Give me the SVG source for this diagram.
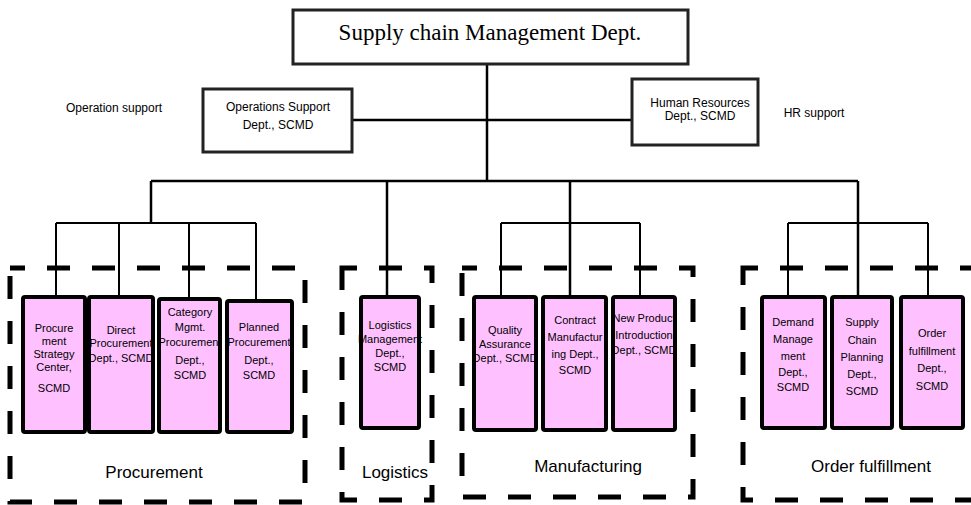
<svg xmlns="http://www.w3.org/2000/svg" width="971" height="505" viewBox="0 0 971 505">
<style>
  .ln { stroke: #000; stroke-width: 2.5; fill: none; }
  .sub { stroke: #000; stroke-width: 2; fill: none; }
  .grp { fill: none; stroke: #000; stroke-width: 5; stroke-dasharray: 23 22; stroke-dashoffset: 8; }
  .unit { fill: #FFC0FF; stroke: #000; stroke-width: 4; }
  .plain { fill: #fff; stroke: #222; stroke-width: 3; }
  .t { font-family: "Liberation Sans", Arial, sans-serif; font-size: 12px; fill: #000; text-anchor: middle; }
  .u { font-family: "Liberation Sans", Arial, sans-serif; font-size: 11px; fill: #000; text-anchor: middle; }
  .g { font-family: "Liberation Sans", Arial, sans-serif; font-size: 17px; fill: #000; text-anchor: middle; }
  .title { font-family: "Liberation Serif", "Times New Roman", serif; font-size: 23px; fill: #000; text-anchor: middle; }
</style>
<rect width="971" height="505" fill="#fff"/>

<g id="connectors">
  <path class="ln" d="M487 64 V181"/>
  <path class="ln" d="M352 120 H632"/>
  <path class="ln" d="M151 181 H858"/>
  <path class="ln" d="M151 181 V223"/>
  <path class="sub" d="M56 223 H256 M56 223 V297 M119 223 V297 M189 223 V299 M256 223 V301"/>
  <path class="ln" d="M387 181 V297"/>
  <path class="ln" d="M570 181 V297"/>
  <path class="sub" d="M501 223 H640 M501 223 V297 M640 223 V297"/>
  <path class="ln" d="M858 181 V297"/>
  <path class="sub" d="M788 223 H928 M788 223 V297 M928 223 V297"/>
</g>

<g id="top">
  <rect class="plain" x="293" y="10" width="395" height="54"/>
  <text class="title" x="490" y="40">Supply chain Management Dept.</text>
</g>

<g id="ops">
  <rect class="plain" x="203" y="89" width="149" height="63"/>
  <text class="t" x="278" y="111">Operations Support</text>
  <text class="t" x="278" y="129">Dept., SCMD</text>
</g>
<text class="t" x="114" y="112">Operation support</text>

<g id="hr">
  <rect class="plain" x="632" y="79" width="126" height="66"/>
  <text class="t" x="700" y="107">Human Resources</text>
  <text class="t" x="700" y="120">Dept., SCMD</text>
</g>
<text class="t" x="814" y="117">HR support</text>

<g id="procurement">
  <rect class="grp" x="10" y="268" width="295" height="234"/>
  <text class="g" x="154" y="478">Procurement</text>
</g>
<g id="logistics">
  <rect class="grp" x="342" y="268" width="90" height="232"/>
  <text class="g" x="395" y="478">Logistics</text>
</g>
<g id="manufacturing">
  <rect class="grp" x="462" y="268" width="231" height="229"/>
  <text class="g" x="588" y="472">Manufacturing</text>
</g>
<g id="orderfulfillment">
  <rect class="grp" x="743" y="268" width="245" height="232"/>
  <text class="g" x="871" y="472">Order fulfillment</text>
</g>

<g id="p1">
  <rect class="unit" x="23" y="297" width="62" height="135" rx="2"/>
  <text class="u" x="54" y="332">Procure</text>
  <text class="u" x="54" y="345">ment</text>
  <text class="u" x="54" y="358">Strategy</text>
  <text class="u" x="54" y="371">Center,</text>
  <text class="u" x="54" y="392">SCMD</text>
</g>
<g id="p2">
  <rect class="unit" x="89" y="297" width="64" height="135" rx="2"/>
  <text class="u" x="121" y="334">Direct</text>
  <text class="u" x="121" y="347">Procurement</text>
  <text class="u" x="121" y="362">Dept., SCMD</text>
</g>
<g id="p3">
  <rect class="unit" x="159" y="299" width="61" height="133" rx="2"/>
  <text class="u" x="190" y="316">Category</text>
  <text class="u" x="190" y="331">Mgmt.</text>
  <text class="u" x="190" y="346">Procurement</text>
  <text class="u" x="190" y="364">Dept.,</text>
  <text class="u" x="190" y="379">SCMD</text>
</g>
<g id="p4">
  <rect class="unit" x="227" y="301" width="65" height="131" rx="2"/>
  <text class="u" x="259" y="331">Planned</text>
  <text class="u" x="259" y="346">Procurement</text>
  <text class="u" x="259" y="364">Dept.,</text>
  <text class="u" x="259" y="379">SCMD</text>
</g>
<g id="l1">
  <rect class="unit" x="361" y="297" width="58" height="131" rx="2"/>
  <text class="u" x="390" y="329">Logistics</text>
  <text class="u" x="390" y="343">Management</text>
  <text class="u" x="390" y="357">Dept.,</text>
  <text class="u" x="390" y="371">SCMD</text>
</g>
<g id="m1">
  <rect class="unit" x="474" y="297" width="62" height="133" rx="2"/>
  <text class="u" x="505" y="334">Quality</text>
  <text class="u" x="505" y="348">Assurance</text>
  <text class="u" x="505" y="362">Dept., SCMD</text>
</g>
<g id="m2">
  <rect class="unit" x="543" y="297" width="63" height="133" rx="2"/>
  <text class="u" x="575" y="324">Contract</text>
  <text class="u" x="575" y="341">Manufactur</text>
  <text class="u" x="575" y="358">ing Dept.,</text>
  <text class="u" x="575" y="374">SCMD</text>
</g>
<g id="m3">
  <rect class="unit" x="613" y="297" width="62" height="133" rx="2"/>
  <text class="u" x="644" y="322">New Product</text>
  <text class="u" x="644" y="339">Introduction</text>
  <text class="u" x="644" y="354">Dept., SCMD</text>
</g>
<g id="o1">
  <rect class="unit" x="762" y="297" width="63" height="131" rx="2"/>
  <text class="u" x="793" y="326">Demand</text>
  <text class="u" x="793" y="343">Manage</text>
  <text class="u" x="793" y="360">ment</text>
  <text class="u" x="793" y="376">Dept.,</text>
  <text class="u" x="793" y="391">SCMD</text>
</g>
<g id="o2">
  <rect class="unit" x="832" y="297" width="60" height="131" rx="2"/>
  <text class="u" x="862" y="326">Supply</text>
  <text class="u" x="862" y="344">Chain</text>
  <text class="u" x="862" y="361">Planning</text>
  <text class="u" x="862" y="378">Dept.,</text>
  <text class="u" x="862" y="395">SCMD</text>
</g>
<g id="o3">
  <rect class="unit" x="901" y="297" width="62" height="131" rx="2"/>
  <text class="u" x="932" y="337">Order</text>
  <text class="u" x="932" y="355">fulfillment</text>
  <text class="u" x="932" y="372">Dept.,</text>
  <text class="u" x="932" y="390">SCMD</text>
</g>
</svg>
